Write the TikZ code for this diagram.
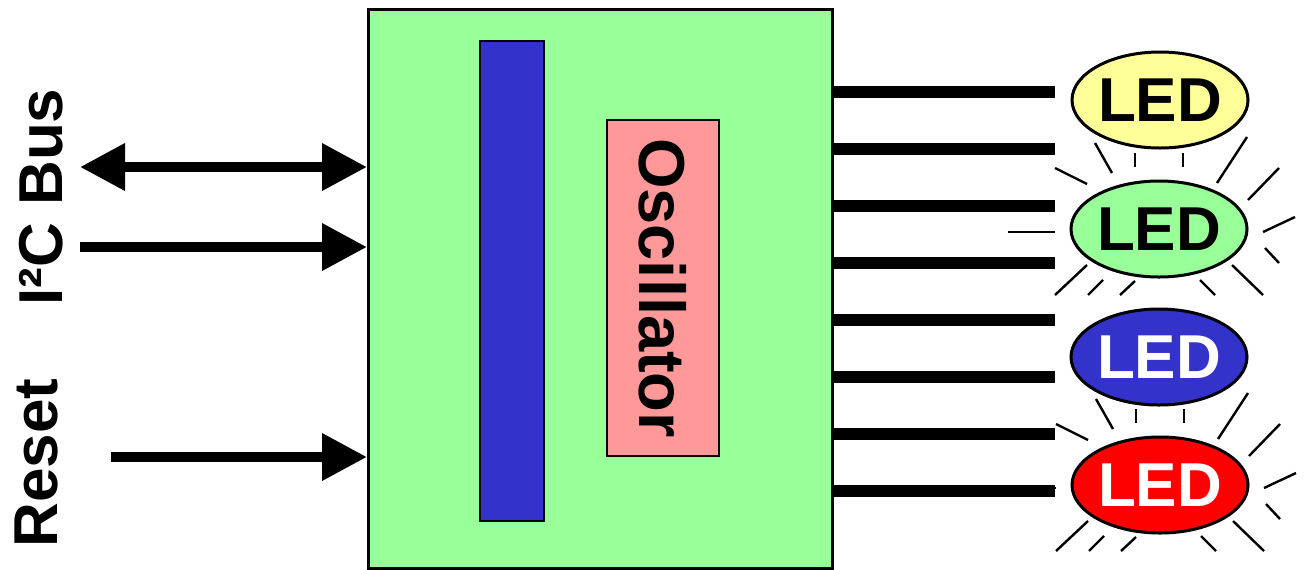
\documentclass[tikz,border=0pt]{standalone}
\usepackage{fontspec}
\setmainfont{Liberation Sans}
\usepackage{tikz}
\usetikzlibrary{shapes.geometric,arrows.meta}
\definecolor{chipgreen}{HTML}{99FF99}
\definecolor{barblue}{HTML}{3333CC}
\definecolor{oscpink}{HTML}{FF9999}
\definecolor{ledyellow}{HTML}{FFFF99}
\definecolor{ledred}{HTML}{FF0000}

\begin{document}
\begin{tikzpicture}[x=0.5pt,y=-0.5pt,
			every node/.style={font=\fontsize{31}{36}\selectfont\bfseries},
			block/.style={draw,line width=1.5pt,inner sep=0pt},
			led/.style={ellipse,draw,line width=1.5pt,inner sep=0pt,
				minimum width=88pt,minimum height=48pt},
			wire/.style={line width=6pt},
			>={Triangle[length=22.5pt,width=22.5pt]},
			sig/.style={line width=5pt},
			ray/.style={line width=1.2pt}]
	\useasboundingbox (0,0) rectangle (1305,569);
	% controller
	\node[block,fill=chipgreen,anchor=north west,minimum width=232pt,minimum height=279.5pt] (chip) at (367,8) {};
	\node[block,fill=barblue,line width=1pt,anchor=north west,minimum width=32pt,minimum height=240pt] (bar) at (479,40) {};
	\node[block,fill=oscpink,line width=1pt,rotate=-90,minimum width=168pt,minimum height=56pt,
		font=\fontsize{32.5}{38}\selectfont\bfseries] (osc) at (663,288) {Oscillator};
	% inputs
	\node[rotate=90] (buslabel) at (41,197) {I²C Bus};
	\node[rotate=90] (resetlabel) at (36,463) {Reset};
	\coordinate (sda) at (80,167);
	\coordinate (scl) at (80,247);
	\coordinate (rst) at (111,457);
	\draw[sig,<->] (sda) -- (chip.west |- sda);
	\draw[sig,->] (scl) -- (chip.west |- scl);
	\draw[sig,->] (rst) -- (chip.west |- rst);
	% outputs
	\foreach \y [count=\i] in {92,149,206,263,320,377,434,491}
	{
		\coordinate (w\i) at (1055,\y);
		\draw[wire] (chip.east |- w\i) -- (w\i);
	}
	\node[led,fill=ledyellow] (led1) at (1160,100) {LED};
	\node[led,fill=chipgreen] (led2) at (1159,229) {LED};
	\node[led,fill=barblue,text=white] (led3) at (1159,357) {LED};
	\node[led,fill=ledred,text=white] (led4) at (1160,485) {LED};
	% glow
	\foreach \n in {led2,led4}
	{
		\begin{scope}[shift={(\n.center)}]
			\foreach \a/\b/\c/\d in {-64/-86/-47/-56, -24/-76/-24/-62, 24/-76/24/-62,
				-104/-61/-72/-45, 88/-92/58/-46, 120/-61/89/-29, 136/-12/104/3,
				-151/3/-104/3, 106/19/120/34, -72/36/-104/66, -56/51/-71/66,
				-24/52/-39/66, 41/51/56/66, 73/36/104/66}
				\draw[ray] (\a,\b) -- (\c,\d);
		\end{scope}
	}
\end{tikzpicture}
\end{document}
